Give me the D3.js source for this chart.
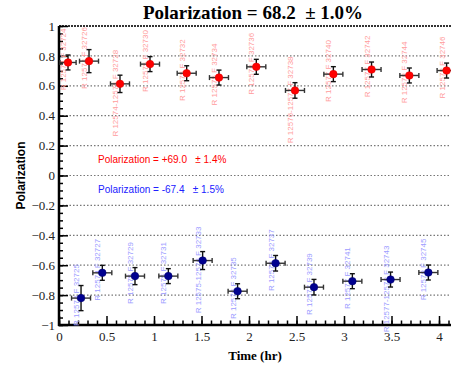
<!DOCTYPE html>
<html>
<head>
<meta charset="utf-8">
<script src="https://cdn.jsdelivr.net/npm/d3@7"></script>
<style>
  body { margin: 0; background: #fff; }
  svg { display: block; }
</style>
</head>
<body>
<div id="chart"></div>
<script>
// positive (red) measurements
var redTime = [0.095, 0.316, 0.642, 0.958, 1.344, 1.684, 2.077, 2.484, 2.888, 3.29, 3.688, 4.08];
var redTimeErr = [0.085, 0.1, 0.1, 0.1, 0.1, 0.1, 0.1, 0.1, 0.1, 0.1, 0.1, 0.1];
var redPol = [0.756, 0.765, 0.613, 0.745, 0.684, 0.655, 0.727, 0.569, 0.678, 0.709, 0.669, 0.702];
var redErr = [0.05, 0.077, 0.058, 0.05, 0.05, 0.05, 0.05, 0.052, 0.05, 0.05, 0.05, 0.05];
var redLabels = ["R 12574 F 32724", "R 12574 F 32726", "R 12574-12575 F 32728", "R 12575 F 32730",
  "R 12575 F 32732", "R 12575 F 32734", "R 12576 F 32736", "R 12576-12577 F 32738",
  "R 12577 F 32740", "R 12577 F 32742", "R 12578 F 32744", "R 12578 F 32746"];

// negative (blue) measurements
var blueTime = [0.232, 0.456, 0.8, 1.151, 1.512, 1.88, 2.28, 2.684, 3.088, 3.49, 3.888];
var blueTimeErr = [0.1, 0.1, 0.1, 0.1, 0.1, 0.1, 0.1, 0.1, 0.1, 0.1, 0.1];
var bluePol = [-0.82, -0.651, -0.673, -0.673, -0.569, -0.774, -0.587, -0.747, -0.707, -0.696, -0.649];
var blueErr = [0.084, 0.05, 0.057, 0.05, 0.06, 0.05, 0.052, 0.052, 0.05, 0.05, 0.05];
var blueLabels = ["R 12574 F 32725", "R 12574 F 32727", "R 12575 F 32729", "R 12575 F 32731",
  "R 12575-12576 F 32733", "R 12576 F 32735", "R 12576 F 32737", "R 12577 F 32739",
  "R 12577 F 32741", "R 12577-12578 F 32743", "R 12578 F 32745"];

var titleText = "Polarization = 68.2  \u00b1 1.0%";
var redSummary = "Polarization = +69.0   \u00b1 1.4%";
var blueSummary = "Polarization = -67.4   \u00b1 1.5%";

var width = 451, height = 370;
var plotLeft = 59, plotBottom = 325, plotTop = 26;

var svg = d3.select("#chart").append("svg")
  .attr("width", width)
  .attr("height", height);

var x = d3.scaleLinear().domain([0, 4]).range([plotLeft, 439]);
var y = d3.scaleLinear().domain([-1, 1]).range([plotBottom, plotTop]);
var xMax = x.invert(width + 2);

svg.append("defs").append("clipPath").attr("id", "plotclip")
  .append("rect")
  .attr("x", plotLeft).attr("y", plotTop - 5)
  .attr("width", width - plotLeft + 5).attr("height", plotBottom - plotTop + 5);

// grid lines
var gridVals = d3.range(-0.8, 0.81, 0.2);
svg.append("g").selectAll("line")
  .data(gridVals)
  .enter().append("line")
  .attr("x1", plotLeft).attr("x2", x(xMax))
  .attr("y1", d => y(d)).attr("y2", d => y(d))
  .attr("stroke", "#777")
  .attr("stroke-width", 1.2)
  .attr("stroke-dasharray", "1.5,2");

// top frame line (dotted)
svg.append("line")
  .attr("x1", plotLeft).attr("x2", x(xMax))
  .attr("y1", y(1)).attr("y2", y(1))
  .attr("stroke", "#333")
  .attr("stroke-width", 2)
  .attr("stroke-dasharray", "2,1");

// y axis (ticks inward)
var yMajor = d3.axisLeft(y).tickValues(d3.range(-1, 1.01, 0.2))
  .tickSize(-9).tickPadding(4)
  .tickFormat(d => { var v = Math.round(d * 10) / 10; return v === 0 ? "0" : d3.format("")(v); });
var yMinor = d3.axisLeft(y).tickValues(d3.range(-1, 1.01, 0.05))
  .tickSize(-4).tickFormat("");

svg.append("g").attr("transform", "translate(" + plotLeft + ",0)").call(yMinor)
  .call(g => g.select(".domain").remove())
  .selectAll("line").attr("stroke-width", 1.5);
var gy = svg.append("g").attr("transform", "translate(" + plotLeft + ",0)").call(yMajor);
gy.select(".domain").attr("stroke-width", 2.5).attr("d", "M0," + y(1) + "V" + (plotBottom + 1));
gy.selectAll("line").attr("stroke-width", 1.5);
gy.selectAll("text")
  .style("font-family", "'Liberation Serif', serif")
  .style("font-size", "13px")
  .attr("fill", "#222");

// x axis (ticks upward)
var xMajor = d3.axisBottom(x).tickValues(d3.range(0, 4.01, 0.5))
  .tickSize(-9).tickPadding(7)
  .tickFormat(d => d3.format("")(d));
var xMinor = d3.axisBottom(x).tickValues(d3.range(0, xMax, 0.1))
  .tickSize(-4.5).tickFormat("");

svg.append("g").attr("transform", "translate(0," + plotBottom + ")").call(xMinor)
  .call(g => g.select(".domain").remove())
  .selectAll("line").attr("stroke-width", 1.5);
var gx = svg.append("g").attr("transform", "translate(0," + plotBottom + ")").call(xMajor);
gx.select(".domain").attr("stroke-width", 2.5).attr("d", "M" + (plotLeft - 1) + ",0H" + x(xMax));
gx.selectAll("line").attr("stroke-width", 1.5);
gx.selectAll("text")
  .style("font-family", "'Liberation Serif', serif")
  .style("font-size", "13px")
  .attr("fill", "#222");

// run labels, rotated
function drawLabels(times, pols, labels, color) {
  svg.append("g").selectAll("text")
    .data(labels)
    .enter().append("text")
    .attr("transform", (d, i) => "translate(" + (x(times[i]) - 2) + "," + (y(pols[i]) - 34) + ") rotate(-90)")
    .attr("text-anchor", "end")
    .style("font-family", "'Liberation Sans', Arial, sans-serif")
    .style("font-size", "8px")
    .attr("fill", color)
    .text(d => d);
}
drawLabels(redTime, redPol, redLabels, "#ff9c9c");
drawLabels(blueTime, bluePol, blueLabels, "#9c9cff");

// error bars + points
function drawSeries(times, tErr, pols, pErr, fill, stroke) {
  var g = svg.append("g").attr("clip-path", "url(#plotclip)");
  var pts = times.map((t, i) => ({ t: t, te: tErr[i], p: pols[i], pe: pErr[i] }));
  var grp = g.selectAll(".pt").data(pts).enter().append("g");
  var cap = 2.5;
  grp.append("line")
    .attr("x1", d => x(d.t - d.te)).attr("x2", d => x(d.t + d.te))
    .attr("y1", d => y(d.p)).attr("y2", d => y(d.p))
    .attr("stroke", "#333").attr("stroke-width", 1.4);
  grp.append("line")
    .attr("x1", d => x(d.t)).attr("x2", d => x(d.t))
    .attr("y1", d => y(d.p - d.pe)).attr("y2", d => y(d.p + d.pe))
    .attr("stroke", "#111").attr("stroke-width", 1.4);
  [-1, 1].forEach(s => {
    grp.append("line")
      .attr("x1", d => x(d.t + s * d.te)).attr("x2", d => x(d.t + s * d.te))
      .attr("y1", d => y(d.p) - cap).attr("y2", d => y(d.p) + cap)
      .attr("stroke", "#333").attr("stroke-width", 1.4);
    grp.append("line")
      .attr("x1", d => x(d.t) - cap).attr("x2", d => x(d.t) + cap)
      .attr("y1", d => y(d.p + s * d.pe)).attr("y2", d => y(d.p + s * d.pe))
      .attr("stroke", "#111").attr("stroke-width", 1.4);
  });
  grp.append("circle")
    .attr("cx", d => x(d.t)).attr("cy", d => y(d.p))
    .attr("r", 3.8)
    .attr("fill", fill)
    .attr("stroke", stroke).attr("stroke-width", 0.6);
}
drawSeries(redTime, redTimeErr, redPol, redErr, "#ff0000", "#e00000");
drawSeries(blueTime, blueTimeErr, bluePol, blueErr, "#00008f", "#000070");

// summary texts
svg.append("text")
  .attr("x", 98).attr("y", 163)
  .style("font-family", "'Liberation Sans', Arial, sans-serif")
  .style("font-size", "10px")
  .attr("fill", "#ff0000")
  .style("white-space", "pre")
  .text(redSummary);
svg.append("text")
  .attr("x", 98).attr("y", 193)
  .style("font-family", "'Liberation Sans', Arial, sans-serif")
  .style("font-size", "10px")
  .attr("fill", "#2020ff")
  .style("white-space", "pre")
  .text(blueSummary);

// title
svg.append("text")
  .attr("x", 253).attr("y", 19)
  .attr("text-anchor", "middle")
  .style("font-family", "'Liberation Serif', serif")
  .style("font-weight", "700")
  .style("font-size", "19px")
  .style("white-space", "pre")
  .text(titleText);

// axis titles
svg.append("text")
  .attr("x", 255).attr("y", 360)
  .attr("text-anchor", "middle")
  .style("font-family", "'Liberation Serif', serif")
  .style("font-weight", "700")
  .style("font-size", "13px")
  .text("Time (hr)");

svg.append("text")
  .attr("transform", "translate(25," + y(0) + ") rotate(-90)")
  .attr("text-anchor", "middle")
  .style("font-family", "'Liberation Sans', Arial, sans-serif")
  .style("font-weight", "700")
  .style("font-size", "12px")
  .text("Polarization");
</script>
</body>
</html>
